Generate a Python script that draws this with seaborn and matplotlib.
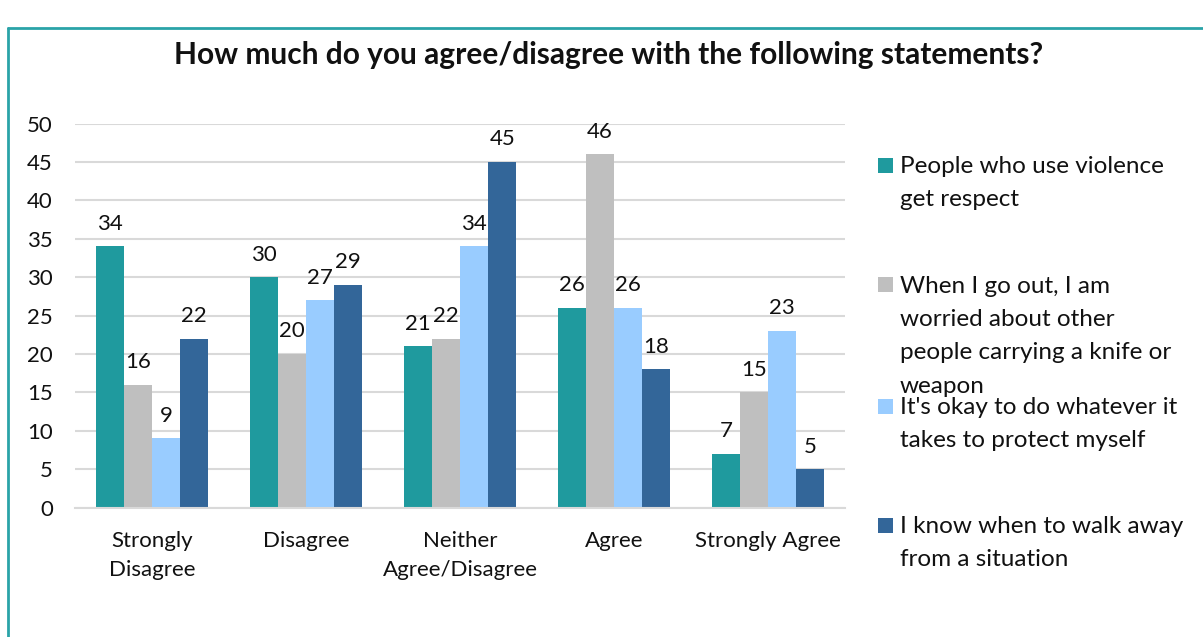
import matplotlib
matplotlib.use("Agg")
import matplotlib.pyplot as plt
from matplotlib.patches import Rectangle
from matplotlib.lines import Line2D
import seaborn as sns
import pandas as pd

categories = ["Strongly\nDisagree", "Disagree", "Neither\nAgree/Disagree", "Agree", "Strongly Agree"]
series_names = [
    "People who use violence get respect",
    "When I go out, I am worried about other people carrying a knife or weapon",
    "It's okay to do whatever it takes to protect myself",
    "I know when to walk away from a situation",
]
legend_labels = [
    "People who use violence\nget respect",
    "When I go out, I am\nworried about other\npeople carrying a knife or\nweapon",
    "It's okay to do whatever it\ntakes to protect myself",
    "I know when to walk away\nfrom a situation",
]
violence_respect = [34, 30, 21, 26, 7]
worried_knife = [16, 20, 22, 46, 15]
okay_protect = [9, 27, 34, 26, 23]
walk_away = [22, 29, 45, 18, 5]
yticks = [0, 5, 10, 15, 20, 25, 30, 35, 40, 45, 50]
colors = ["#1F9A9E", "#BFBFBF", "#99CCFF", "#336699"]
title = "How much do you agree/disagree with the following statements?"

values = [violence_respect, worried_knife, okay_protect, walk_away]
rows = []
for name, vals in zip(series_names, values):
    for cat, v in zip(categories, vals):
        rows.append({"category": cat, "series": name, "value": v})
df = pd.DataFrame(rows)

sns.set_theme(style="white")
plt.rcParams["font.family"] = ["Lato", "DejaVu Sans"]

W, H = 1203, 637
fig = plt.figure(figsize=(W / 100, H / 100), dpi=100)
ax = fig.add_axes([75 / W, 1 - 507.5 / H, (845 - 75) / W, (507.5 - 123.5) / H])

sns.barplot(data=df, x="category", y="value", hue="series", order=categories,
            hue_order=series_names, palette=colors, width=0.73, saturation=1,
            ax=ax, legend=False, edgecolor="none", linewidth=0)

for cont in ax.containers:
    ax.bar_label(cont, fmt="%d", padding=9, fontsize=16, color="#111111")

ax.set_ylim(0, 50)
ax.set_yticks(yticks)
ax.set_xlim(-0.5, len(categories) - 0.5)
ax.grid(axis="y", color="#D9D9D9", linewidth=1.5)
ax.set_axisbelow(True)
for s in ["top", "right", "left"]:
    ax.spines[s].set_visible(False)
ax.spines["bottom"].set_color("#D9D9D9")
ax.spines["bottom"].set_linewidth(1.5)
ax.tick_params(axis="y", length=0, pad=16, labelsize=16, labelcolor="#111111")
ax.tick_params(axis="x", length=0, pad=17, labelsize=16, labelcolor="#111111")
for lab in ax.get_xticklabels():
    lab.set_linespacing(1.56)
ax.set_xlabel("")
ax.set_ylabel("")

fig.text(609 / W, 1 - 55 / H, title, ha="center", va="center",
         fontsize=21.5, fontweight="bold", color="#111111")

# legend, drawn by hand so that the squares line up with the first line of text
first_line_y = [165, 285, 406, 525]
for lab, col, y in zip(legend_labels, colors, first_line_y):
    fig.patches.append(Rectangle((878 / W, 1 - (y + 7.5) / H), 15 / W, 15 / H,
                                 transform=fig.transFigure, facecolor=col,
                                 edgecolor="none"))
    fig.text(900 / W, 1 - (y - 9) / H, lab, ha="left", va="top",
             fontsize=17.5, color="#111111", linespacing=1.72)

# chart frame (top and left edges visible)
fig.add_artist(Line2D([8 / W, 1.0], [1 - 28 / H, 1 - 28 / H], transform=fig.transFigure,
                      color="#2AA3A8", linewidth=2))
fig.add_artist(Line2D([8 / W, 8 / W], [0.0, 1 - 28 / H], transform=fig.transFigure,
                      color="#2AA3A8", linewidth=2))

fig.savefig("out.png", dpi=100)
